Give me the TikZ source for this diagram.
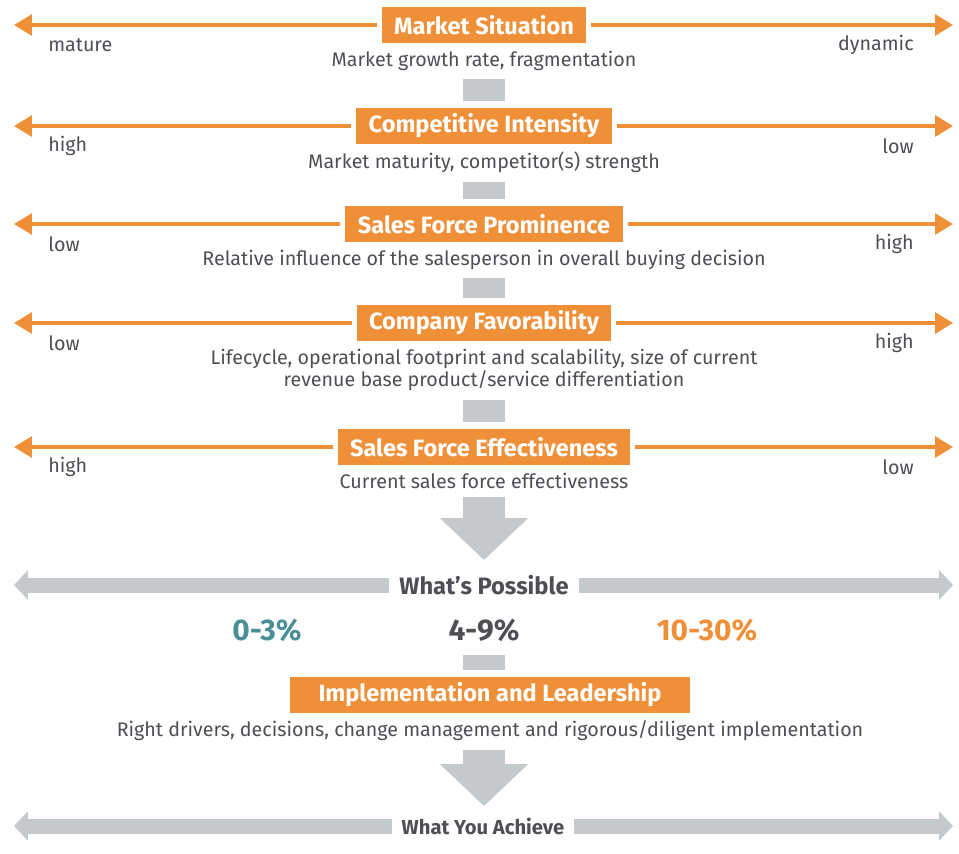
\documentclass[tikz,border=0pt]{standalone}
\usepackage{fontspec}
\setmainfont{Fira Sans}
\usetikzlibrary{arrows.meta,positioning}

\definecolor{boxorange}{HTML}{EF9039}
\definecolor{bargrey}{HTML}{C4C9CB}
\definecolor{txtgrey}{HTML}{4D4F54}
\definecolor{teal}{HTML}{4A8E96}

\begin{document}
\begin{tikzpicture}[x=0.02cm,y=-0.02cm,
  every node/.style={font=\fontsize{11.2}{13}\selectfont,text=txtgrey},
  factor/.style={fill=boxorange,text=white,font=\fontsize{13.4}{15}\selectfont\bfseries,
    minimum height=0.72cm,inner xsep=0.25cm,outer xsep=0.1cm},
  rail/.style={draw=boxorange,line width=1.8pt,-{Triangle[length=0.36cm,width=0.42cm]}},
  band/.style={draw=bargrey,line width=0.3cm,-{Triangle[length=0.28cm,width=0.58cm]}},
  link/.style={draw=bargrey,line width=0.84cm,shorten <=0.14cm,shorten >=0.14cm},
  funnel/.style={draw=bargrey,line width=0.84cm,shorten <=0.14cm,-{Triangle[length=0.84cm,width=1.72cm]}},
  verdict/.style={font=\fontsize{13.5}{15}\selectfont\bfseries,inner xsep=0.2cm,outer sep=0pt},
  rate/.style={font=\fontsize{17}{20}\selectfont\bfseries}]
  \useasboundingbox (0,0) rectangle (959,853);

  % the five drivers, each on its own scale
  \foreach \i/\y/\ttl/\lo/\hi/\dsc in {
    1/25/{Market Situation}/mature/dynamic/{Market growth rate, fragmentation},
    2/126/{Competitive Intensity}/high/low/{Market maturity, competitor(s) strength},
    3/224/{Sales Force Prominence}/low/high/{Relative influence of the salesperson in overall buying decision},
    4/323/{Company Favorability}/low/high/{Lifecycle, operational footprint and scalability, size of current\\revenue base product/service differentiation},
    5/447/{Sales Force Effectiveness}/high/low/{Current sales force effectiveness}}
  {
    \node[factor] (t\i) at (484,\y) {\ttl};
    \node[below=3pt of t\i,align=center,inner sep=1pt] (d\i) {\dsc};
    \node[anchor=west,inner xsep=0pt] (lo\i) at (48,\y+20) {\lo};
    \node[anchor=east,inner xsep=0pt] (hi\i) at (914,\y+20) {\hi};
    \coordinate (l\i) at (14,\y);
    \coordinate (r\i) at (953,\y);
    \draw[rail] (t\i) -- (l\i);
    \draw[rail] (t\i) -- (r\i);
  }
  \foreach \a/\b in {1/2,2/3,3/4,4/5}
    \draw[link] (d\a) -- (t\b);

  % what is possible
  \coordinate (tip1) at (484,560);
  \draw[funnel] (d5) -- (tip1);
  \node[verdict] (wp) at (484,585) {What’s Possible};
  \coordinate (wpl) at (14,585);
  \coordinate (wpr) at (953,585);
  \draw[band] (wp) -- (wpl);
  \draw[band] (wp) -- (wpr);

  \node[rate,text=teal] (p1) at (267,630) {0-3\%};
  \node[rate] (p2) at (484,630) {4-9\%};
  \node[rate,text=boxorange] (p3) at (707,630) {10-30\%};

  % implementation
  \node[factor,minimum width=8cm] (il) at (490,695) {Implementation and Leadership};
  \node[below=3pt of il,inner sep=1pt] (ild)
    {Right drivers, decisions, change management and rigorous/diligent implementation};
  \draw[link] (p2) -- (p2 |- il.north);
  \coordinate (tip2) at (484,806);
  \draw[funnel] (tip2 |- ild.south) -- (tip2);

  % what you achieve
  \node[verdict,font=\fontsize{11.5}{13}\selectfont\bfseries] (wa) at (483,826) {What You Achieve};
  \coordinate (wal) at (14,826);
  \coordinate (war) at (953,826);
  \draw[band] (wa) -- (wal);
  \draw[band] (wa) -- (war);
\end{tikzpicture}
\end{document}
